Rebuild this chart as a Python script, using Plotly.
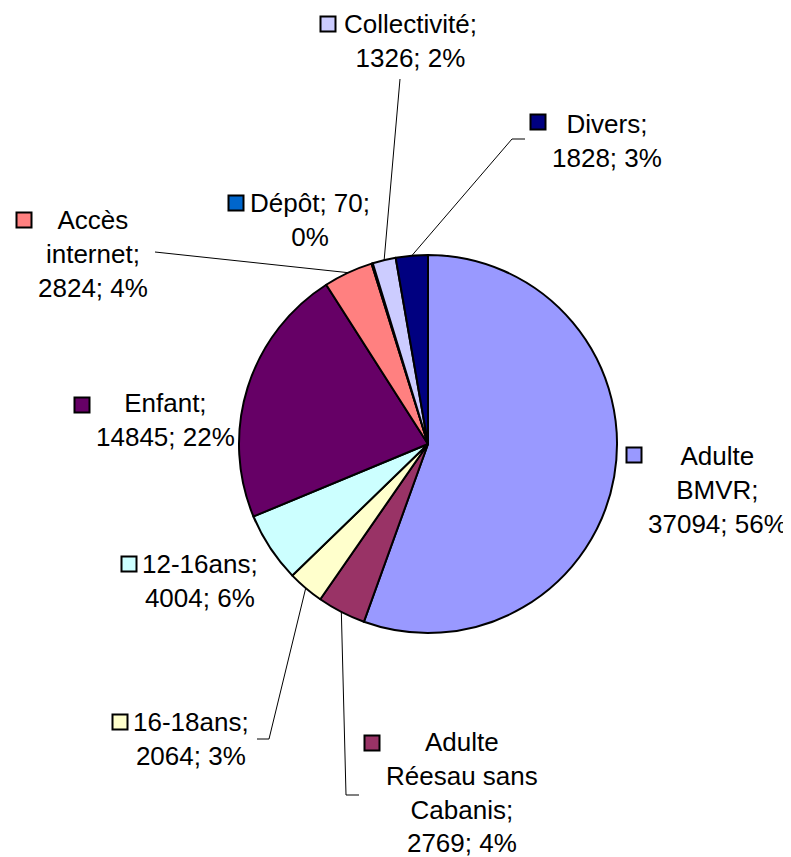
import math
import plotly.graph_objects as go

# data
categories = ["Adulte BMVR", "Adulte Réesau sans Cabanis", "16-18ans", "12-16ans",
              "Enfant", "Accès internet", "Dépôt", "Collectivité", "Divers"]
values = [37094, 2769, 2064, 4004, 14845, 2824, 70, 1326, 1828]
colors = ["#9999FF", "#993366", "#FFFFCC", "#CCFFFF", "#660066",
          "#FF8080", "#0066CC", "#CCCCFF", "#000080"]

# how each label is wrapped in the picture
wrapped = {
    "Adulte BMVR": ["Adulte", "BMVR;"],
    "Adulte Réesau sans Cabanis": ["Adulte", "Réesau sans", "Cabanis;"],
    "16-18ans": ["16-18ans;"],
    "12-16ans": ["12-16ans;"],
    "Enfant": ["Enfant;"],
    "Accès internet": ["Accès", "internet;"],
    "Dépôt": None,
    "Collectivité": ["Collectivité;"],
    "Divers": ["Divers;"],
}

W, H = 791, 857
OFF = 8  # page body margin
CX, CY, R = 428, 444, 189
LINE = 33.5

# layout (screen pixels): label block centre (x, first line y), legend-key centre, leader knees
label_pos = {
    "Adulte BMVR": (717, 456), "Adulte Réesau sans Cabanis": (462, 742),
    "16-18ans": (191, 722), "12-16ans": (200, 564), "Enfant": (165, 403),
    "Accès internet": (93, 220), "Dépôt": (310, 203), "Collectivité": (410, 24),
    "Divers": (607, 124),
}
key_pos = {
    "Adulte BMVR": (634, 455), "Adulte Réesau sans Cabanis": (372, 743),
    "16-18ans": (120, 722), "12-16ans": (129, 564), "Enfant": (82, 405),
    "Accès internet": (24, 220), "Dépôt": (236, 203), "Collectivité": (328, 24),
    "Divers": (538, 122),
}
leaders = {
    "Collectivité": [(400, 79)],
    "Divers": [(512, 139), (525, 139)],
    "Accès internet": [(155, 252)],
    "16-18ans": [(269, 739), (257, 739)],
    "Adulte Réesau sans Cabanis": [(346, 795), (359, 795)],
}


def px(x):
    return (x - OFF) / W


def py(y):
    return 1 - (y - OFF) / H


total = sum(values)

fig = go.Figure(go.Pie(
    labels=categories, values=values, sort=False, direction="clockwise",
    rotation=0, textinfo="none", hoverinfo="label+value+percent",
    marker=dict(colors=colors, line=dict(color="black", width=2)),
    domain=dict(x=[px(CX - R), px(CX + R)], y=[py(CY + R), py(CY - R)]),
    showlegend=False,
))

annotations = []
shapes = []
cum = 0
for name, v, c in zip(categories, values, colors):
    pct = round(v / total * 100)
    if wrapped[name] is None:
        lines = [f"{name}; {v};", f"{pct}%"]
    else:
        lines = wrapped[name] + [f"{v}; {pct}%"]
    lx, ly = label_pos[name]
    block_mid = ly + (len(lines) - 1) * LINE / 2
    annotations.append(dict(
        x=px(lx), y=py(block_mid), xref="paper", yref="paper",
        text="<br>".join(lines), showarrow=False, align="center",
        xanchor="center", yanchor="middle", borderpad=0,
        font=dict(family="Arial, Liberation Sans", size=26, color="black"),
    ))
    kx, ky = key_pos[name]
    shapes.append(dict(type="rect", xref="paper", yref="paper",
                       x0=px(kx - 7.5), x1=px(kx + 7.5), y0=py(ky + 7.5), y1=py(ky - 7.5),
                       fillcolor=c, line=dict(color="black", width=2)))
    # leader line from the slice's mid-angle on the rim
    mid = (cum + v / 2) / total * 2 * math.pi
    cum += v
    if name in leaders:
        pts = [(CX + R * math.sin(mid), CY - R * math.cos(mid))] + leaders[name]
        path = "M " + " L ".join(f"{px(a)},{py(b)}" for a, b in pts)
        shapes.append(dict(type="path", xref="paper", yref="paper", path=path,
                           line=dict(color="black", width=1)))

fig.update_layout(
    width=W, height=H, margin=dict(l=0, r=0, t=0, b=0),
    paper_bgcolor="white", plot_bgcolor="white",
    annotations=annotations, shapes=shapes,
)

fig.write_html("out.html")
